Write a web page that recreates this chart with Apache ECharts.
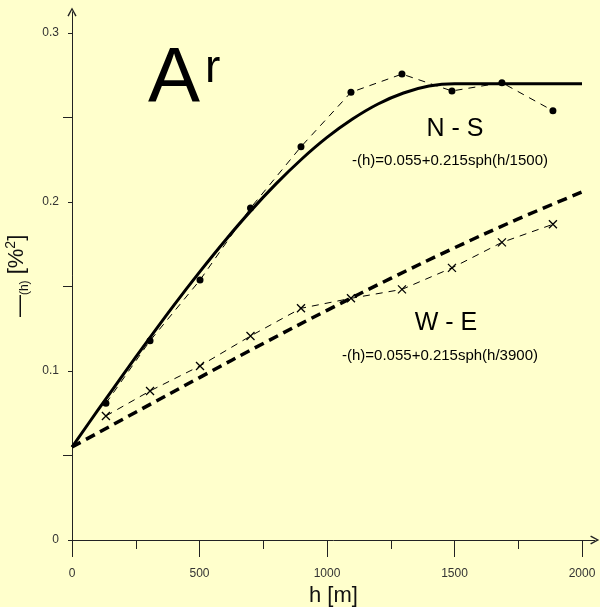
<!DOCTYPE html>
<html><head><meta charset="utf-8">
<script src="https://cdn.jsdelivr.net/npm/echarts@6/dist/echarts.min.js"></script>
<style>html,body{margin:0;padding:0;background:#FFFFCC}#c{width:600px;height:607px}</style>
</head><body><div id="c"></div>
<script>
const lagNS = [133, 306, 502, 700, 898, 1094, 1294, 1490, 1686, 1886];
const gammaNS = [0.0809, 0.1179, 0.1538, 0.1964, 0.2327, 0.2649, 0.2757, 0.2657, 0.2706, 0.2540];
const lagWE = [133, 306, 502, 700, 898, 1094, 1294, 1490, 1686, 1886];
const gammaWE = [0.0734, 0.0882, 0.1030, 0.1207, 0.1371, 0.1430, 0.1483, 0.1610, 0.1761, 0.1868];
// Model curves
const modelLagNS = [0, 100, 200, 300, 400, 500, 600, 700, 800, 900, 1000, 1100, 1200, 1300, 1400, 1500, 1600, 1700, 1800, 1900, 2000];
const modelNS = [0.055, 0.0765, 0.0977, 0.1186, 0.1390, 0.1585, 0.1771, 0.1946, 0.2107, 0.2253, 0.2382, 0.2491, 0.2580, 0.2645, 0.2686, 0.2700, 0.2700, 0.2700, 0.2700, 0.2700, 0.2700];
const modelLagWE = [0, 250, 500, 750, 1000, 1250, 1500, 1750, 2000];
const modelWE = [0.055, 0.0756, 0.0961, 0.1163, 0.1359, 0.1548, 0.1729, 0.1900, 0.2059];
// Ticks
const xTicks = [0, 500, 1000, 1500, 2000];
const xMinorTicks = [250, 750, 1250, 1750];
const yTicks = [0, 0.1, 0.2, 0.3];
const yMinorTicks = [0.05, 0.15, 0.25];

const FONT = "'Liberation Sans', Arial, sans-serif";
const AX = '#222';
const chevron = 'path://M5,0L10,9L8.6,9.8L5,2.9L1.4,9.8L0,9Z';
const xMark = 'path://M0,0L10,10M10,0L0,10';

const chart = echarts.init(document.getElementById('c'));
chart.setOption({
  backgroundColor: '#FFFFCC',
  animation: false,
  textStyle: { fontFamily: FONT },
  grid: { left: 72, right: 5.25, top: 11.875, bottom: 67, containLabel: false, outerBoundsMode: 'none' },
  xAxis: [
    {
      type: 'value', min: 0, max: 2050,
      axisLine: { show: true, lineStyle: { color: AX, width: 1 }, symbol: ['none', chevron], symbolSize: [10, 9] },
      axisTick: { show: true, customValues: xTicks, length: 17, lineStyle: { color: AX } },
      axisLabel: { customValues: xTicks, fontSize: 12, color: '#333', margin: 28, fontFamily: FONT, formatter: v => String(v) },
      splitLine: { show: false },
      name: 'h [m]', nameLocation: 'middle', nameGap: 43,
      nameTextStyle: { fontSize: 22, color: '#111', fontFamily: FONT }
    },
    {
      type: 'value', min: 0, max: 2050, position: 'bottom',
      axisLine: { show: false },
      axisTick: { show: true, customValues: xMinorTicks, length: 9, lineStyle: { color: AX } },
      axisLabel: { show: false }, splitLine: { show: false }
    }
  ],
  yAxis: [
    {
      type: 'value', min: 0, max: 0.3125,
      axisLine: { show: true, lineStyle: { color: AX, width: 1 }, symbol: ['none', chevron], symbolSize: [10, 9] },
      axisTick: { show: true, customValues: yTicks, length: 4, lineStyle: { color: AX } },
      axisLabel: { customValues: yTicks, fontSize: 12, color: '#333', margin: 13, fontFamily: FONT, formatter: v => String(v) },
      splitLine: { show: false },
      name: '{g|—}{s|(h)}{n| [%}{p|2}{n|]}', nameLocation: 'middle', nameGap: 38, nameRotate: 90,
      nameTextStyle: {
        color: '#111', fontFamily: FONT,
        rich: {
          g: { fontSize: 22, fontFamily: FONT, color: '#111', lineHeight: 26, padding: [6, 0, 0, 0] },
          s: { fontSize: 12, fontFamily: FONT, color: '#111', verticalAlign: 'bottom', lineHeight: 12, padding: [8, 0, 0, 0] },
          n: { fontSize: 22, fontFamily: FONT, color: '#111', lineHeight: 26 },
          p: { fontSize: 14, fontFamily: FONT, color: '#111', verticalAlign: 'top', lineHeight: 14 }
        }
      }
    },
    {
      type: 'value', min: 0, max: 0.3125, position: 'left',
      axisLine: { show: false },
      axisTick: { show: true, customValues: yMinorTicks, length: 9, lineStyle: { color: AX } },
      axisLabel: { show: false }, splitLine: { show: false }
    }
  ],
  graphic: [
    { type: 'text', left: 148, top: 41, style: { text: 'A', fontSize: 78, fontFamily: FONT, fill: '#000' } },
    { type: 'text', left: 205, top: 46, style: { text: 'r', fontSize: 46, fontFamily: FONT, fill: '#000' } },
    { type: 'text', x: 455, y: 129, style: { text: 'N - S', fontSize: 25, fontFamily: FONT, fill: '#000', align: 'center', verticalAlign: 'middle' } },
    { type: 'text', x: 450, y: 161, style: { text: '-(h)=0.055+0.215sph(h/1500)', fontSize: 15, fontFamily: FONT, fill: '#000', align: 'center', verticalAlign: 'middle' } },
    { type: 'text', x: 446, y: 323, style: { text: 'W - E', fontSize: 25, fontFamily: FONT, fill: '#000', align: 'center', verticalAlign: 'middle' } },
    { type: 'text', x: 440, y: 356, style: { text: '-(h)=0.055+0.215sph(h/3900)', fontSize: 15, fontFamily: FONT, fill: '#000', align: 'center', verticalAlign: 'middle' } }
  ],
  series: [
    {
      name: 'N-S model', type: 'line', xAxisIndex: 0, yAxisIndex: 0,
      data: modelLagNS.map((h, i) => [h, modelNS[i]]),
      smooth: 0.4, showSymbol: false, symbol: 'none',
      lineStyle: { color: '#000', width: 3 }, z: 2
    },
    {
      name: 'W-E model', type: 'line', xAxisIndex: 0, yAxisIndex: 0,
      data: modelLagWE.map((h, i) => [h, modelWE[i]]),
      smooth: 0.4, showSymbol: false, symbol: 'none',
      lineStyle: { color: '#000', width: 3.5, type: [10, 6] }, z: 2
    },
    {
      name: 'N-S', type: 'line', xAxisIndex: 0, yAxisIndex: 0,
      data: lagNS.map((h, i) => [h, gammaNS[i]]),
      symbol: 'circle', symbolSize: 7,
      itemStyle: { color: '#000' },
      lineStyle: { color: '#000', width: 1, type: [7, 6] }, z: 3
    },
    {
      name: 'W-E', type: 'line', xAxisIndex: 0, yAxisIndex: 0,
      data: lagWE.map((h, i) => [h, gammaWE[i]]),
      symbol: xMark, symbolSize: 8,
      itemStyle: { color: 'none', borderColor: '#000', borderWidth: 1.3 },
      lineStyle: { color: '#000', width: 1, type: [7, 6] }, z: 3
    }
  ]
});
</script>
</body></html>
